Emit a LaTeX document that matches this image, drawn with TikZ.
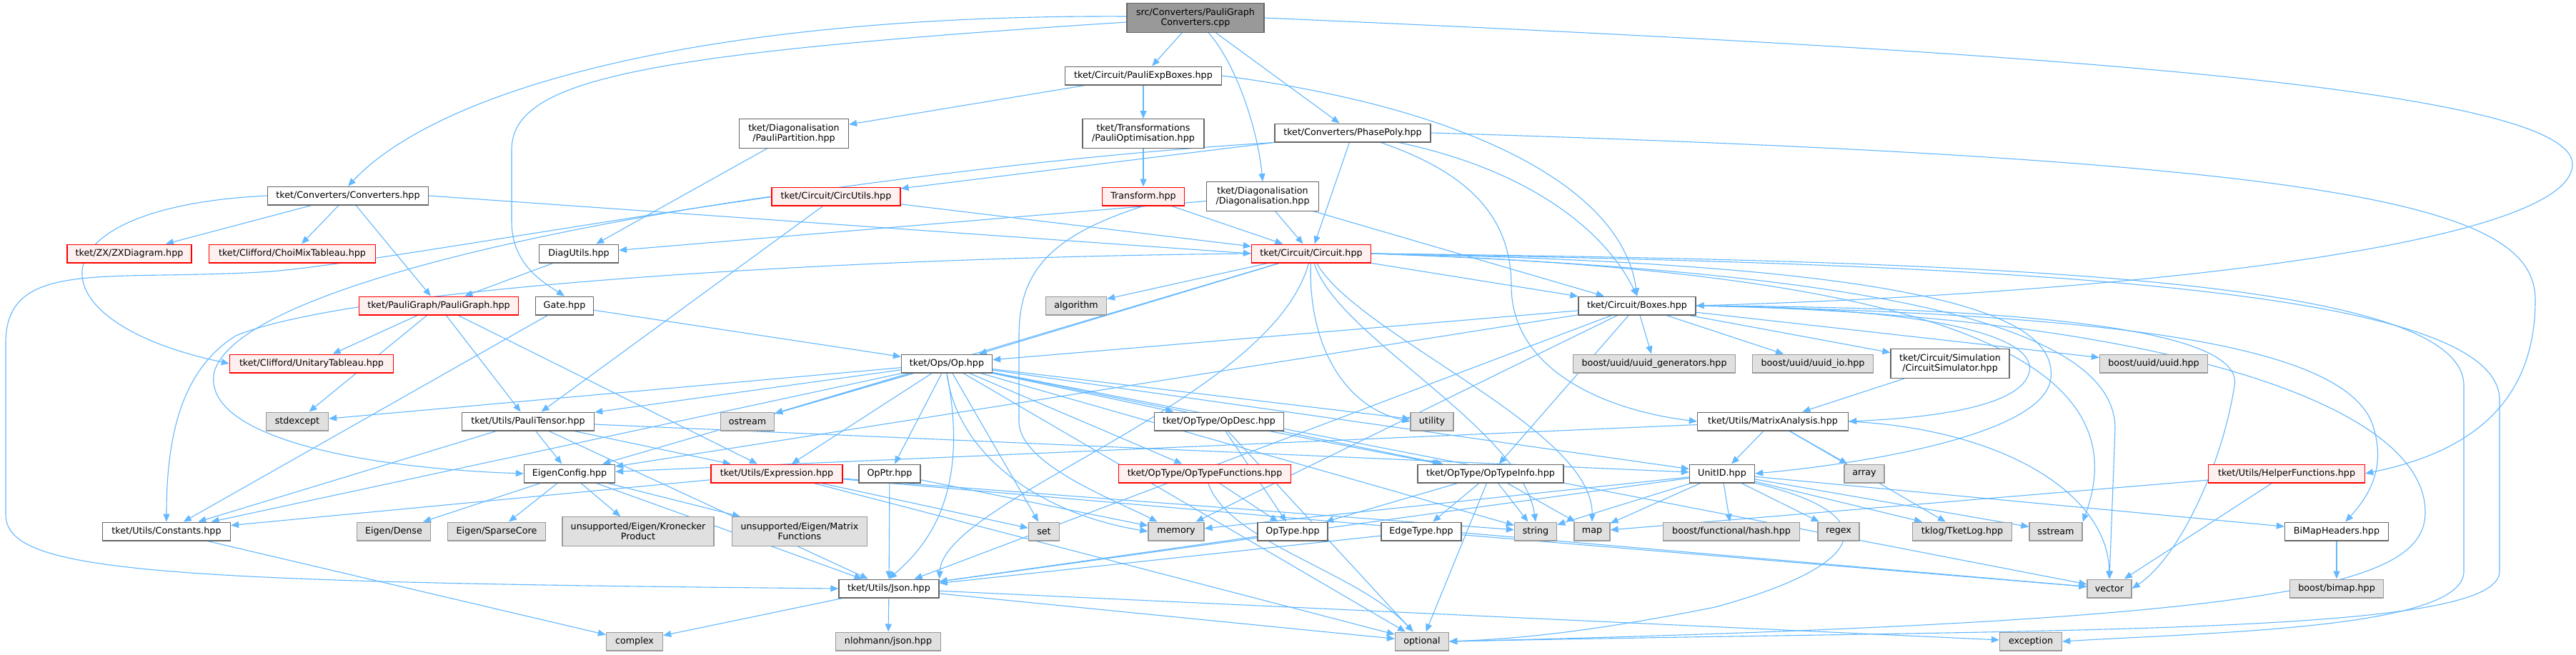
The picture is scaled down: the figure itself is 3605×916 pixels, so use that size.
\documentclass[tikz,border=0pt]{standalone}
\usepackage{fontspec}
\setmainfont{DejaVu Sans}
\usetikzlibrary{arrows.meta,backgrounds}

\definecolor{edgeblue}{HTML}{63B8FF}
\definecolor{boxgray}{HTML}{666666}
\definecolor{sysfill}{HTML}{E0E0E0}
\definecolor{sysdraw}{HTML}{999999}
\definecolor{truncfill}{HTML}{FFF0F0}
\definecolor{truncdraw}{HTML}{FF0000}

\begin{document}
\begin{tikzpicture}[
        x=1pt, y=-1pt,
        font=\fontsize{12.7}{14.4}\selectfont,
        filebox/.style={
            draw=boxgray,
            fill=white,
            line width=1.3pt,
            inner sep=0pt,
            minimum height=25.7pt,
            align=center
        },
        twoline/.style={minimum height=40.5pt},
        truncbox/.style={
            filebox,
            fill=truncfill,
            draw=truncdraw
        },
        sysbox/.style={
            filebox,
            fill=sysfill,
            draw=sysdraw
        },
        rootbox/.style={
            filebox,
            twoline,
            fill=sysdraw,
            draw=boxgray
        },
        dep/.style={draw=edgeblue, line width=1.1pt,
            -{Stealth[length=11pt,width=9pt,inset=0pt]}}
    ]
        \useasboundingbox (0,0) rectangle (3605,916);

        % Upper levels
        \node[rootbox, minimum width=192pt] (root) at (1673,25)
            {src/Converters/PauliGraph\\Converters.cpp};
        \node[filebox, minimum width=219pt] (peb) at (1600,106)
            {tket/Circuit/PauliExpBoxes.hpp};
        \node[filebox, twoline, minimum width=153pt] (ppart) at (1111,187)
            {tket/Diagonalisation\\/PauliPartition.hpp};
        \node[filebox, twoline, minimum width=170pt] (popt) at (1600,187)
            {tket/Transformations\\/PauliOptimisation.hpp};
        \node[filebox, minimum width=218pt] (pp) at (1893,186)
            {tket/Converters/PhasePoly.hpp};
        \node[filebox, minimum width=225pt] (conv) at (487,274)
            {tket/Converters/Converters.hpp};
        \node[truncbox, minimum width=180pt] (cu) at (1170,275)
            {tket/Circuit/CircUtils.hpp};
        \node[truncbox, minimum width=115pt] (trans) at (1600,275)
            {Transform.hpp};
        \node[filebox, twoline, minimum width=157pt] (diag) at (1767,275)
            {tket/Diagonalisation\\/Diagonalisation.hpp};
        \node[truncbox, minimum width=174pt] (zx) at (181,355)
            {tket/ZX/ZXDiagram.hpp};
        \node[truncbox, minimum width=233pt] (choi) at (409,355)
            {tket/Clifford/ChoiMixTableau.hpp};
        \node[filebox, minimum width=111pt] (dutils) at (810,355)
            {DiagUtils.hpp};
        \node[truncbox, minimum width=167pt] (circ) at (1835,355)
            {tket/Circuit/Circuit.hpp};
        \node[truncbox, minimum width=223pt] (pg) at (614,428)
            {tket/PauliGraph/PauliGraph.hpp};
        \node[filebox, minimum width=81pt] (gate) at (790,428) {Gate.hpp};
        \node[sysbox, minimum width=85pt] (algo) at (1506,428) {algorithm};
        \node[filebox, minimum width=164pt] (boxes) at (2291,428)
            {tket/Circuit/Boxes.hpp};

        % Lower levels
        \node[truncbox, minimum width=229pt] (ut) at (436,509)
            {tket/Clifford/UnitaryTableau.hpp};
        \node[filebox, minimum width=127pt] (op) at (1325,509)
            {tket/Ops/Op.hpp};
        \node[sysbox, minimum width=227pt] (uuidgen) at (2315,509)
            {boost/uuid/uuid\_generators.hpp};
        \node[sysbox, minimum width=169pt] (uuidio) at (2537,509)
            {boost/uuid/uuid\_io.hpp};
        \node[filebox, twoline, minimum width=166pt] (csim) at (2729,509)
            {tket/Circuit/Simulation\\/CircuitSimulator.hpp};
        \node[sysbox, minimum width=151pt] (uuid) at (3014,509)
            {boost/uuid/uuid.hpp};
        \node[sysbox, minimum width=87pt] (stdexc) at (416,590) {stdexcept};
        \node[filebox, minimum width=185pt] (ptensor) at (739,590)
            {tket/Utils/PauliTensor.hpp};
        \node[sysbox, minimum width=75pt] (ostr) at (1046,590) {ostream};
        \node[filebox, minimum width=181pt] (opdesc) at (1706,590)
            {tket/OpType/OpDesc.hpp};
        \node[sysbox, minimum width=60pt] (util) at (2004,590) {utility};
        \node[filebox, minimum width=211pt] (ma) at (2481,590)
            {tket/Utils/MatrixAnalysis.hpp};
        \node[filebox, minimum width=127pt] (eigen) at (797,663)
            {EigenConfig.hpp};
        \node[truncbox, minimum width=184pt] (expr) at (1087,663)
            {tket/Utils/Expression.hpp};
        \node[filebox, minimum width=86pt] (opptr) at (1245,663) {OpPtr.hpp};
        \node[truncbox, minimum width=241pt] (optf) at (1686,663)
            {tket/OpType/OpTypeFunctions.hpp};
        \node[filebox, minimum width=204pt] (oti) at (2086,663)
            {tket/OpType/OpTypeInfo.hpp};
        \node[filebox, minimum width=91pt] (unitid) at (2410,663) {UnitID.hpp};
        \node[sysbox, minimum width=56pt] (arr) at (2609,663) {array};
        \node[truncbox, minimum width=219pt] (helper) at (3200,663)
            {tket/Utils/HelperFunctions.hpp};
        \node[filebox, minimum width=179pt] (const) at (233,744)
            {tket/Utils/Constants.hpp};
        \node[sysbox, minimum width=103pt] (dense) at (551,744) {Eigen/Dense};
        \node[sysbox, minimum width=137pt] (sparse) at (695,744)
            {Eigen/SparseCore};
        \node[sysbox, twoline, minimum width=212pt] (kron) at (893,744)
            {unsupported/Eigen/Kronecker\\Product};
        \node[sysbox, twoline, minimum width=189pt] (mfunc) at (1119,744)
            {unsupported/Eigen/Matrix\\Functions};
        \node[sysbox, minimum width=43pt] (set) at (1461,744) {set};
        \node[sysbox, minimum width=78pt] (mem) at (1646,744) {memory};
        \node[filebox, minimum width=98pt] (optype) at (1809,744) {OpType.hpp};
        \node[filebox, minimum width=112pt] (edget) at (1989,744)
            {EdgeType.hpp};
        \node[sysbox, minimum width=59pt] (str) at (2149,744) {string};
        \node[sysbox, minimum width=50pt] (map) at (2228,744) {map};
        \node[sysbox, minimum width=191pt] (hash) at (2423,744)
            {boost/functional/hash.hpp};
        \node[sysbox, minimum width=58pt] (regex) at (2573,744) {regex};
        \node[sysbox, minimum width=139pt] (tklog) at (2746,744)
            {tklog/TketLog.hpp};
        \node[sysbox, minimum width=74pt] (sstr) at (2877,744) {sstream};
        \node[filebox, minimum width=145pt] (bimaph) at (3270,744)
            {BiMapHeaders.hpp};
        \node[filebox, minimum width=140pt] (json) at (1244,824)
            {tket/Utils/Json.hpp};
        \node[sysbox, minimum width=62pt] (vec) at (2952,824) {vector};
        \node[sysbox, minimum width=131pt] (bimap) at (3270,824)
            {boost/bimap.hpp};
        \node[sysbox, minimum width=79pt] (cplx) at (888,898) {complex};
        \node[sysbox, minimum width=147pt] (nlohmann) at (1243,898)
            {nlohmann/json.hpp};
        \node[sysbox, minimum width=75pt] (opt) at (1990,898) {optional};
        \node[sysbox, minimum width=87pt] (exc) at (2842,898) {exception};

        \begin{scope}[on background layer]
        \fill[white] (0,0) rectangle (3605,916);

        % Includes of the source file and the upper headers
        \draw[dep] ([yshift=2pt]root.west) .. controls (1000,20) and (620,120) .. (conv.north);
        \draw[dep] ([yshift=-6pt]root.west) .. controls (900,75) and (716,110) .. (716,210)
            -- (716,310) .. controls (716,370) and (760,395) .. (gate.north);
        \draw[dep] (root) -- (peb);
        \draw[dep] (root) .. controls (1730,90) and (1760,180) .. (diag.north);
        \draw[dep] (root) -- (pp);
        \draw[dep] (root.east) .. controls (2800,70) and (3600,120) .. (3600,230)
            .. controls (3600,340) and (3000,410) .. (boxes.east);
        \draw[dep] (conv) -- (zx);
        \draw[dep] (conv) -- (choi);
        \draw[dep] (conv) -- (pg);
        \draw[dep] (conv.west) .. controls (40,290) and (40,450) .. (ut.west);
        \draw[dep] (conv.east) -- (circ.west);
        \draw[dep] (peb) -- (ppart);
        \draw[dep] (peb) -- (popt);
        \draw[dep] (peb.east) .. controls (2050,150) and (2270,260) .. (boxes.north);
        \draw[dep] (popt) -- (trans);
        \draw[dep] (ppart) -- (dutils);
        \draw[dep] (trans) -- (circ);
        \draw[dep] (trans.south) .. controls (1470,330) and (1426,380) .. (1426,470)
            -- (1426,590) .. controls (1426,650) and (1560,700) .. (mem);
        \draw[dep] (diag) -- (dutils);
        \draw[dep] (diag) -- (circ);
        \draw[dep] (diag) -- (boxes);
        \draw[dep] (pp) -- (cu);
        \draw[dep] (pp) -- (circ);
        \draw[dep] (pp) .. controls (2150,240) and (2250,330) .. (boxes.north);
        \draw[dep] (pp.east) .. controls (3300,225) and (3548,290) .. (3548,420)
            .. controls (3548,590) and (3420,640) .. (helper.east);
        \draw[dep] (pp.south west) .. controls (1200,235) and (600,360) .. (380,380)
            .. controls (150,395) and (8,360) .. (8,480) -- (8,720)
            .. controls (8,800) and (200,815) .. (json.west);
        \draw[dep] (pp) .. controls (2050,240) and (2115,300) .. (2115,400)
            .. controls (2115,520) and (2250,575) .. (ma.west);
        \draw[dep] (cu) -- (circ);
        \draw[dep] (cu) -- (ptensor);
        \draw[dep] (cu.west) .. controls (700,330) and (330,420) .. (300,520)
            .. controls (280,610) and (500,655) .. (eigen.west);
        \draw[dep] (dutils) -- (pg);
        \draw[dep] (pg) -- (ut);
        \draw[dep] (pg) -- (stdexc);
        \draw[dep] (pg) -- (ptensor);
        \draw[dep] (pg) -- (expr);
        \draw[dep] (gate) -- (op);
        \draw[dep] (gate) -- (const);

        % Circuit and boxes
        \draw[dep] (circ) -- (algo);
        \draw[dep] (circ) -- (boxes);
        \draw[dep] (circ) -- (op);
        \draw[dep] (circ.west) .. controls (1200,360) and (500,400) .. (330,470)
            .. controls (250,520) and (233,620) .. (const.north);
        \draw[dep] (circ) -- (ostr);
        \draw[dep] (circ) .. controls (1830,480) and (1880,570) .. (util.west);
        \draw[dep] (circ) .. controls (1870,470) and (2130,600) .. (str.north);
        \draw[dep] (circ) .. controls (1900,470) and (2230,600) .. (map.north);
        \draw[dep] (circ) .. controls (1780,560) and (1320,700) .. (json.north east);
        \draw[dep] (circ.east) .. controls (2700,380) and (3000,500) .. (sstr.north east);
        \draw[dep] (circ.east) .. controls (2600,380) and (2960,450) .. (2960,600)
            -- (vec.north);
        \draw[dep] (circ.east) .. controls (2700,370) and (2880,440) .. (2870,530)
            .. controls (2860,610) and (2600,650) .. (unitid.east);
        \draw[dep] (circ.east) .. controls (2800,365) and (3448,390) .. (3448,540)
            -- (3448,800) .. controls (3448,880) and (3100,885) .. (exc.east);
        \draw[dep] (circ.east) .. controls (2800,370) and (3498,400) .. (3498,560)
            -- (3498,800) .. controls (3498,890) and (2900,880) .. (opt.east);
        \draw[dep] (boxes) -- (op);
        \draw[dep] (boxes) -- (csim);
        \draw[dep] (boxes) -- (uuidgen);
        \draw[dep] (boxes) -- (uuidio);
        \draw[dep] (boxes) -- (uuid);
        \draw[dep] (boxes) -- (eigen);
        \draw[dep] (boxes) -- (json);
        \draw[dep] (boxes) -- (mem);
        \draw[dep] (boxes) -- (oti);
        \draw[dep] (boxes.east) .. controls (2700,430) and (2850,470) .. (2840,520)
            .. controls (2830,570) and (2700,585) .. (ma.east);
        \draw[dep] (boxes.east) .. controls (2900,430) and (3140,470) .. (3127,540)
            .. controls (3110,650) and (3050,780) .. (vec.east);
        \draw[dep] (boxes.east) .. controls (2950,440) and (3290,480) .. (3322,600)
            .. controls (3340,660) and (3310,700) .. (bimaph);
        \draw[dep] (boxes.east) .. controls (3000,440) and (3394,560) .. (3394,717)
            .. controls (3394,820) and (3200,870) .. (opt.east);

        % Ops and utilities
        \draw[dep] (op) -- (opptr);
        \draw[dep] (op) -- (opdesc);
        \draw[dep] (op) -- (optf);
        \draw[dep] (op) -- (ptensor);
        \draw[dep] (op) -- (expr);
        \draw[dep] (op) -- (eigen);
        \draw[dep] (op) -- (const);
        \draw[dep] (op) -- (ostr);
        \draw[dep] (op) -- (stdexc);
        \draw[dep] (op.south) .. controls (1340,640) and (1460,720) .. (mem.west);
        \draw[dep] (op) -- (set);
        \draw[dep] (op) -- (str);
        \draw[dep] (op) -- (util);
        \draw[dep] (op) -- (unitid);
        \draw[dep] (op) -- (oti);
        \draw[dep] (op) -- (vec);
        \draw[dep] (op) -- (opt);
        \draw[dep] (op.south) .. controls (1360,700) and (1290,770) .. (json.north);
        \draw[dep] (ptensor) -- (eigen);
        \draw[dep] (ptensor) -- (expr);
        \draw[dep] (ptensor) -- (const);
        \draw[dep] (ptensor) -- (json);
        \draw[dep] (ptensor) -- (unitid);
        \draw[dep] (opdesc) -- (oti);
        \draw[dep] (opdesc) -- (optype);
        \draw[dep] (opdesc) -- (opt);
        \draw[dep] (ma) -- (unitid);
        \draw[dep] (ma) -- (arr);
        \draw[dep] (ma) -- (tklog);
        \draw[dep] (ma.east) .. controls (2800,600) and (2950,690) .. (vec.north);
        \draw[dep] (ma) -- (eigen);
        \draw[dep] (csim) -- (ma);
        \draw[dep] (eigen) -- (dense);
        \draw[dep] (eigen) -- (sparse);
        \draw[dep] (eigen) -- (kron);
        \draw[dep] (eigen) -- (mfunc);
        \draw[dep] (eigen) -- (json);
        \draw[dep] (expr) -- (const);
        \draw[dep] (expr) -- (set);
        \draw[dep] (expr) -- (str);
        \draw[dep] (expr) -- (opt);
        \draw[dep] (expr) -- (vec);
        \draw[dep] (opptr) -- (json);
        \draw[dep] (opptr) -- (mem);
        \draw[dep] (optf) -- (optype);
        \draw[dep] (optf) .. controls (1720,760) and (1900,800) .. (opt);
        \draw[dep] (oti) -- (optype);
        \draw[dep] (oti) -- (edget);
        \draw[dep] (oti) -- (str);
        \draw[dep] (oti) -- (map);
        \draw[dep] (oti) -- (opt);
        \draw[dep] (optype) -- (json);
        \draw[dep] (edget) -- (json);
        \draw[dep] (edget) -- (vec);
        \draw[dep] (unitid) -- (json);
        \draw[dep] (unitid) -- (str);
        \draw[dep] (unitid) -- (map);
        \draw[dep] (unitid) -- (hash);
        \draw[dep] (unitid) -- (regex);
        \draw[dep] (unitid) -- (tklog);
        \draw[dep] (unitid) -- (sstr);
        \draw[dep] (unitid) -- (bimaph);
        \draw[dep] (unitid) -- (mem);
        \draw[dep] (unitid.south east) .. controls (2640,720) and (2620,790) .. (2400,850)
            .. controls (2200,890) and (2100,895) .. (opt.east);
        \draw[dep] (helper) -- (map);
        \draw[dep] (helper) -- (vec);
        \draw[dep] (bimaph) -- (bimap);
        \draw[dep] (json) -- (nlohmann);
        \draw[dep] (json) -- (cplx);
        \draw[dep] (json) -- (opt);
        \draw[dep] (json) -- (exc);
        \draw[dep] (const) -- (cplx);
        \end{scope}
    \end{tikzpicture}
\end{document}
